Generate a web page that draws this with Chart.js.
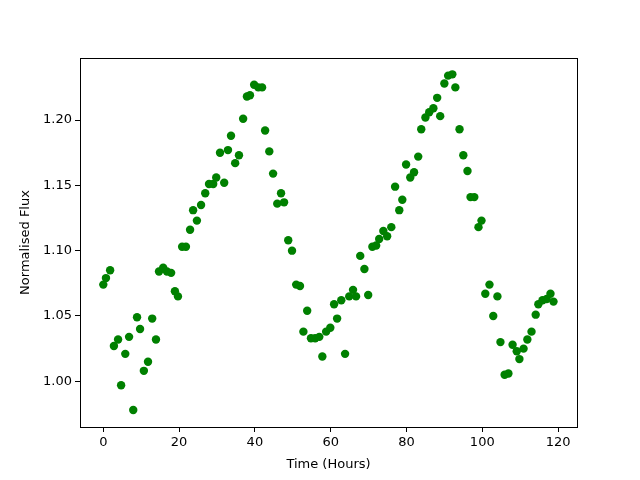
<!DOCTYPE html>
<html lang="en">
<head>
    <meta charset="UTF-8">
    <title>Flux</title>
    <script src="https://cdn.jsdelivr.net/npm/chart.js"></script>
    <style>
        body { margin: 0; background: #fff; }
        .container { width: 640px; height: 480px; }
    </style>
</head>
<body>
    <div class="container">
        <canvas id="myChart" width="640" height="480"></canvas>
    </div>
    <script>
        // time in hours
        const hours = [0.0, 0.7, 1.8, 2.8, 3.9, 4.7, 5.8, 6.8, 7.9, 8.9, 9.7, 10.7, 11.8, 12.9, 13.9, 14.7, 15.8, 16.8, 17.9, 18.9,
            19.7, 20.8, 21.8, 22.9, 23.7, 24.7, 25.8, 26.9, 27.9, 29.0, 29.8, 30.8, 31.9, 32.9, 33.7, 34.8, 35.8, 36.9, 37.9, 38.7,
            39.8, 40.9, 41.9, 42.7, 43.8, 44.8, 45.9, 46.9, 47.7, 48.8, 49.8, 50.9, 51.9, 52.8, 53.8, 54.8, 55.9, 57.0, 57.8, 58.8,
            59.9, 60.9, 61.7, 62.8, 63.8, 64.9, 65.9, 66.7, 67.8, 68.9, 69.9, 71.0, 72.0, 72.8, 73.9, 74.9, 76.0, 77.0, 78.1, 78.9,
            79.9, 81.0, 82.0, 83.1, 83.9, 85.0, 86.0, 87.1, 88.1, 88.9, 90.0, 91.0, 92.1, 92.9, 94.0, 95.0, 96.1, 96.9, 97.9, 99.0,
            99.8, 100.8, 101.9, 102.9, 104.0, 104.8, 105.9, 106.9, 108.0, 109.1, 109.8, 110.9, 111.9, 113.0, 114.1, 114.8, 115.9, 117.0, 118.0, 118.8];
        const flux = [1.074, 1.079, 1.085, 1.027, 1.032, 0.997, 1.021, 1.034, 0.978, 1.049, 1.040, 1.008, 1.015, 1.048, 1.032, 1.084, 1.087, 1.084, 1.083, 1.069,
            1.065, 1.103, 1.103, 1.116, 1.131, 1.123, 1.135, 1.144, 1.151, 1.151, 1.156, 1.175, 1.152, 1.177, 1.188, 1.167, 1.173, 1.201, 1.218, 1.219,
            1.227, 1.225, 1.225, 1.192, 1.176, 1.159, 1.136, 1.144, 1.137, 1.108, 1.100, 1.074, 1.073, 1.038, 1.054, 1.033, 1.033, 1.034, 1.019, 1.038,
            1.041, 1.059, 1.048, 1.062, 1.021, 1.065, 1.070, 1.065, 1.096, 1.086, 1.066, 1.103, 1.104, 1.109, 1.115, 1.111, 1.118, 1.149, 1.131, 1.139,
            1.166, 1.156, 1.160, 1.172, 1.193, 1.202, 1.206, 1.209, 1.217, 1.203, 1.228, 1.234, 1.235, 1.225, 1.193, 1.173, 1.161, 1.141, 1.141, 1.118,
            1.123, 1.067, 1.074, 1.050, 1.065, 1.030, 1.005, 1.006, 1.028, 1.023, 1.017, 1.025, 1.032, 1.038, 1.051, 1.059, 1.062, 1.063, 1.067, 1.061];
        const xTicks = [0, 20, 40, 60, 80, 100, 120];
        const yTicks = [1.00, 1.05, 1.10, 1.15, 1.20];

        const font = { family: 'DejaVu Sans', size: 13 };

        // black box round the plot area, like matplotlib spines
        const frame = {
            id: 'frame',
            afterDraw(chart) {
                const { ctx, chartArea: a } = chart;
                ctx.save();
                ctx.strokeStyle = '#000';
                ctx.lineWidth = 1;
                ctx.strokeRect(a.left + 0.5, a.top + 0.5, a.right - a.left, a.bottom - a.top);
                ctx.restore();
            }
        };

        const ctx = document.getElementById('myChart').getContext('2d');
        const myChart = new Chart(ctx, {
            type: 'scatter',
            data: {
                datasets: [{
                    data: hours.map((h, i) => ({ x: h, y: flux[i] })),
                    backgroundColor: '#008000',
                    borderColor: '#008000',
                    pointRadius: 4.2,
                    borderWidth: 0
                }]
            },
            options: {
                responsive: false,
                animation: false,
                layout: { padding: { left: 0, top: 58, right: 63, bottom: 0 } },
                plugins: { legend: { display: false }, tooltip: { enabled: false } },
                scales: {
                    x: {
                        min: -6.15,
                        max: 125.0,
                        afterBuildTicks: axis => { axis.ticks = xTicks.map(v => ({ value: v })); },
                        afterFit: axis => { axis.height = 53; },
                        grid: { drawOnChartArea: false, drawTicks: true, tickLength: 5, color: '#000' },
                        border: { display: false },
                        ticks: { color: '#000', font: font, padding: 3, maxRotation: 0 },
                        title: { display: true, text: 'Time (Hours)', color: '#000', font: font, padding: { top: 4, bottom: 8 } }
                    },
                    y: {
                        min: 0.965,
                        max: 1.2475,
                        afterBuildTicks: axis => { axis.ticks = yTicks.map(v => ({ value: v })); },
                        afterFit: axis => { axis.width = 80; },
                        grid: { drawOnChartArea: false, drawTicks: true, tickLength: 5, color: '#000' },
                        border: { display: false },
                        ticks: { color: '#000', font: font, padding: 3, callback: v => v.toFixed(2) },
                        title: { display: true, text: 'Normalised Flux', color: '#000', font: font, padding: { top: 18, bottom: 4 } }
                    }
                }
            },
            plugins: [frame]
        });
    </script>
</body>
</html>
